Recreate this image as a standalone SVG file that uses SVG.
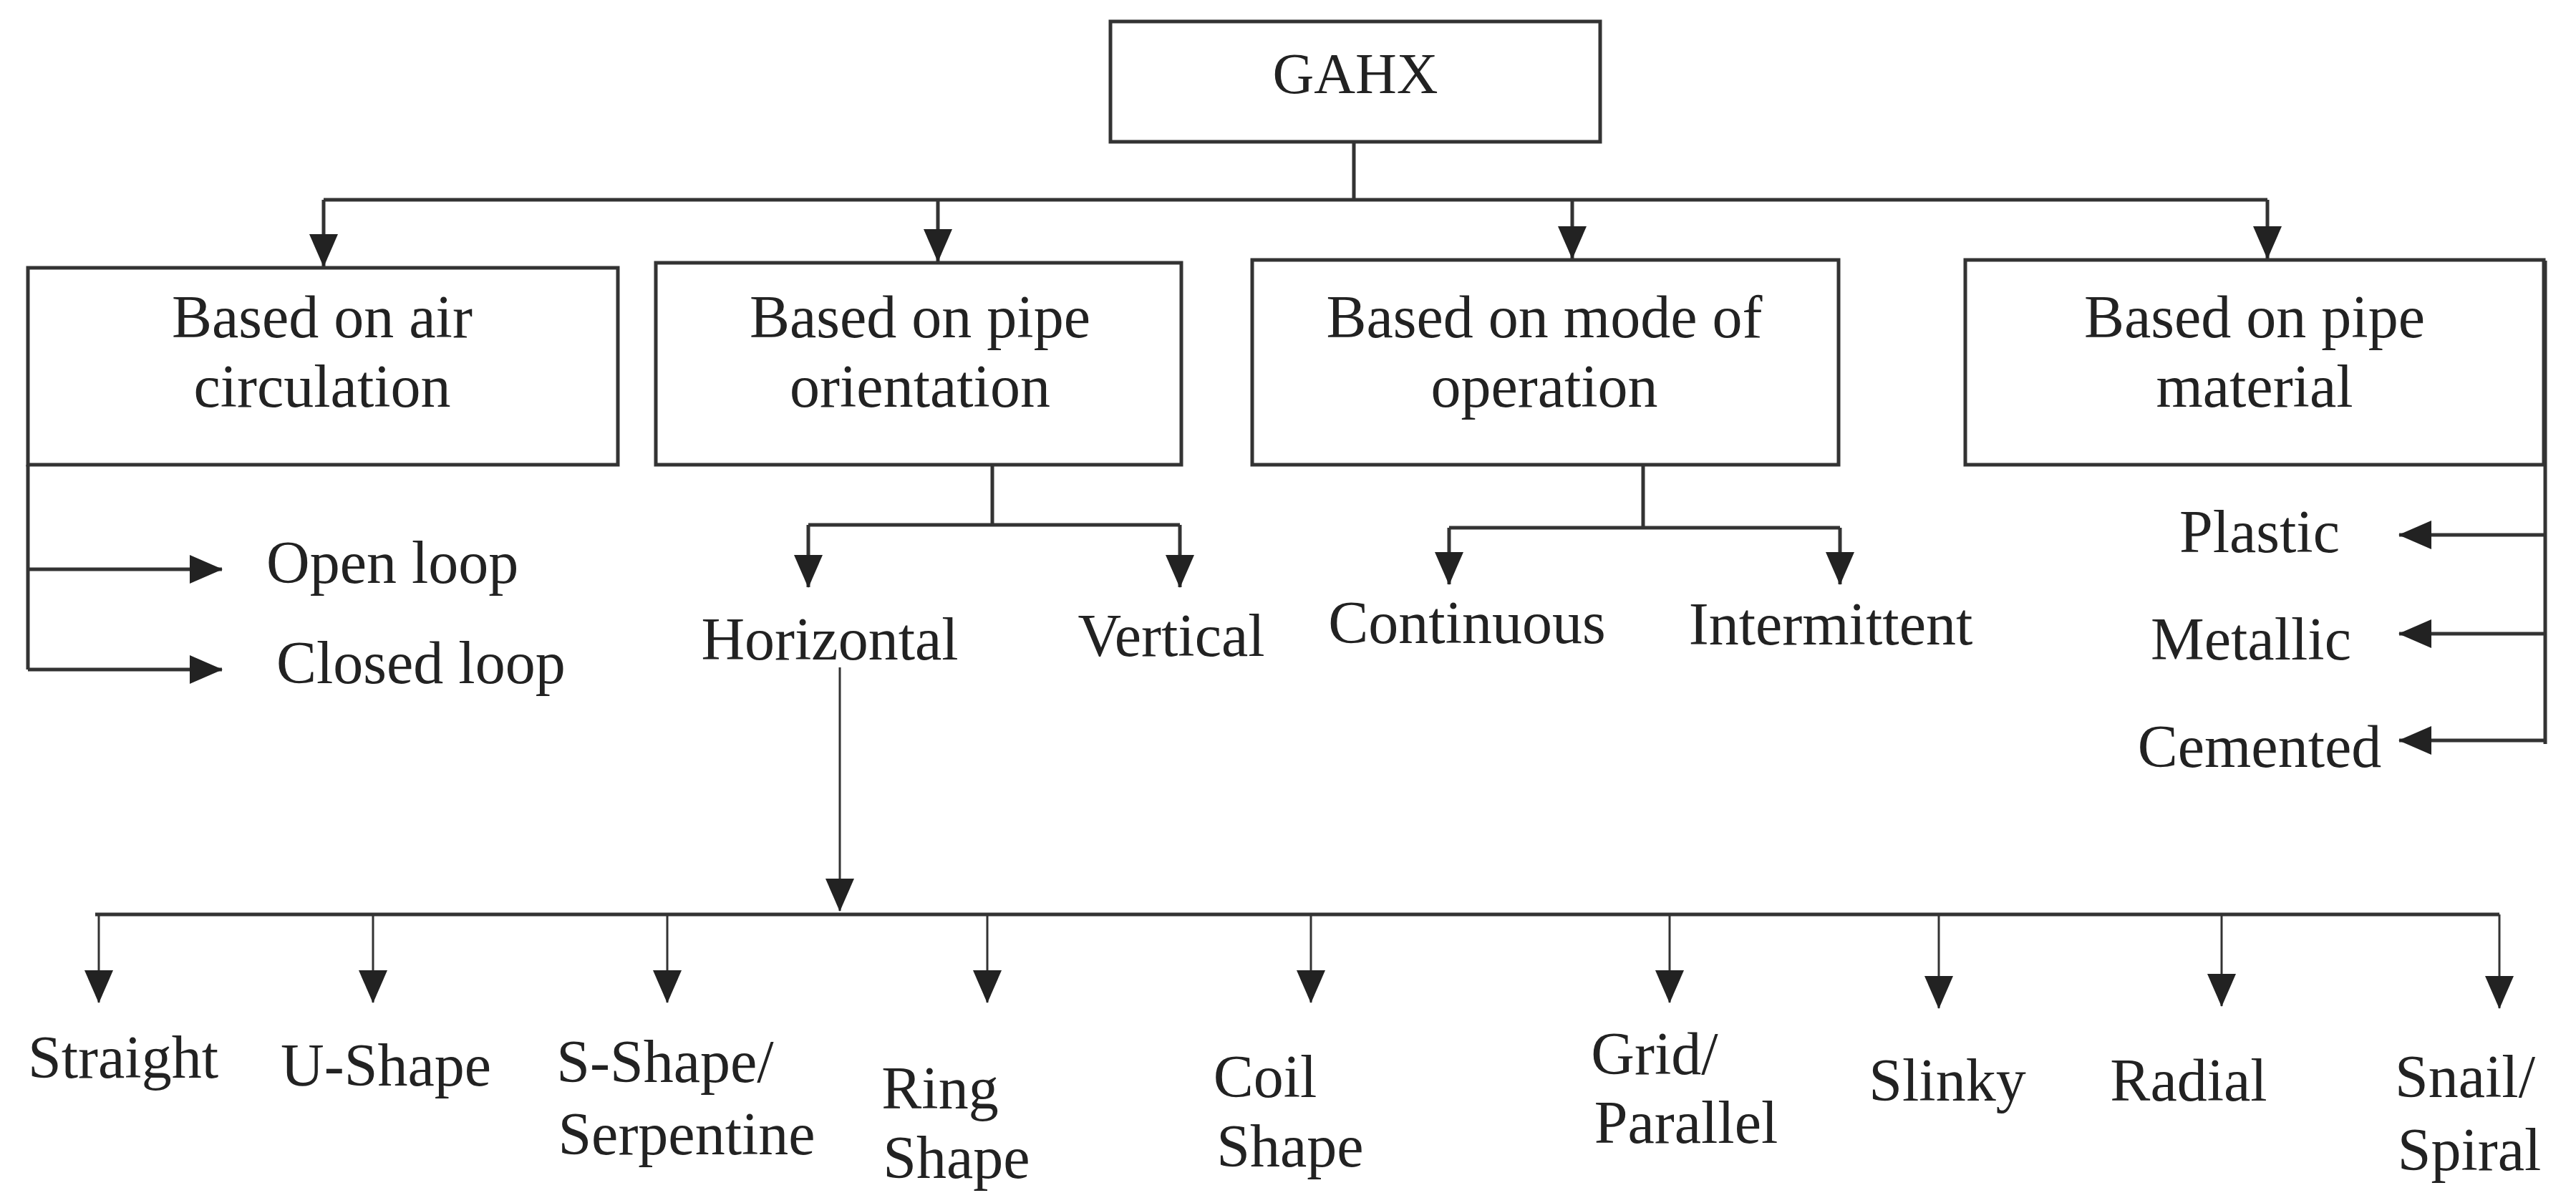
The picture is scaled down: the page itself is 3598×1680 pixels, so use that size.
<svg xmlns="http://www.w3.org/2000/svg" width="3598" height="1680" viewBox="0 0 3598 1680">
<style>
.box{fill:#fff;stroke:#333;stroke-width:5}
.ln{fill:none;stroke:#333;stroke-width:5}
.t{font-family:"Liberation Serif",serif;font-size:84px;fill:#222;text-anchor:middle}
</style>
<defs>
<marker id="ah" markerUnits="userSpaceOnUse" markerWidth="46" markerHeight="40" refX="45" refY="20" orient="auto">
<path d="M0,0 L46,20 L0,40 z" fill="#222"/>
</marker>
</defs>
<rect width="3598" height="1680" fill="#fff"/>
<g id="connectors">
<path class="ln" d="M1891,198 V279 M452,279 H3167"/>
<path class="ln" marker-end="url(#ah)" d="M452,279 V372"/>
<path class="ln" marker-end="url(#ah)" d="M1310,279 V365"/>
<path class="ln" marker-end="url(#ah)" d="M2196,279 V361"/>
<path class="ln" marker-end="url(#ah)" d="M3167,279 V361"/>
<path class="ln" d="M39,649 V935"/>
<path class="ln" marker-end="url(#ah)" d="M39,795 H310"/>
<path class="ln" marker-end="url(#ah)" d="M39,935 H310"/>
<path class="ln" d="M1386,649 V733 M1129,733 H1648"/>
<path class="ln" marker-end="url(#ah)" d="M1129,733 V820"/>
<path class="ln" marker-end="url(#ah)" d="M1648,733 V820"/>
<path class="ln" d="M2295,649 V737 M2024,737 H2570"/>
<path class="ln" marker-end="url(#ah)" d="M2024,737 V816"/>
<path class="ln" marker-end="url(#ah)" d="M2570,737 V816"/>
<path class="ln" d="M3555,364 V1039"/>
<path class="ln" marker-end="url(#ah)" d="M3555,747 H3351"/>
<path class="ln" marker-end="url(#ah)" d="M3555,885 H3351"/>
<path class="ln" marker-end="url(#ah)" d="M3555,1034 H3351"/>
<path class="ln" marker-end="url(#ah)" d="M1173,932 V1272" style="stroke-width:3"/>
<path class="ln" d="M133,1277 H3491"/>
<g style="stroke-width:3">
<path class="ln" marker-end="url(#ah)" d="M138,1277 V1400" style="stroke-width:3"/>
<path class="ln" marker-end="url(#ah)" d="M521,1277 V1400" style="stroke-width:3"/>
<path class="ln" marker-end="url(#ah)" d="M932,1277 V1400" style="stroke-width:3"/>
<path class="ln" marker-end="url(#ah)" d="M1379,1277 V1400" style="stroke-width:3"/>
<path class="ln" marker-end="url(#ah)" d="M1831,1277 V1400" style="stroke-width:3"/>
<path class="ln" marker-end="url(#ah)" d="M2332,1277 V1400" style="stroke-width:3"/>
<path class="ln" marker-end="url(#ah)" d="M2708,1277 V1408" style="stroke-width:3"/>
<path class="ln" marker-end="url(#ah)" d="M3103,1277 V1405" style="stroke-width:3"/>
<path class="ln" marker-end="url(#ah)" d="M3491,1277 V1408" style="stroke-width:3"/>
</g>
</g>
<g id="gahx"><rect class="box" x="1551" y="30" width="684" height="168"/><text class="t" x="1893" y="130" style="font-size:80px">GAHX</text></g>
<g id="air"><rect class="box" x="39" y="374" width="824" height="275"/><text class="t" x="450" y="471">Based on air</text><text class="t" x="450" y="568">circulation</text></g>
<g id="orient"><rect class="box" x="916" y="367" width="734" height="282"/><text class="t" x="1285" y="471">Based on pipe</text><text class="t" x="1285" y="568">orientation</text></g>
<g id="mode"><rect class="box" x="1749" y="363" width="819" height="286"/><text class="t" x="2157" y="471">Based on mode of</text><text class="t" x="2157" y="568">operation</text></g>
<g id="material"><rect class="box" x="2745" y="363" width="808" height="286"/><text class="t" x="3149" y="471">Based on pipe</text><text class="t" x="3149" y="568">material</text></g>
<g id="open"><text class="t" x="372" y="814" style="text-anchor:start">Open loop</text></g>
<g id="closed"><text class="t" x="386" y="954" style="text-anchor:start">Closed loop</text></g>
<g id="horizontal"><text class="t" x="1159" y="921">Horizontal</text></g>
<g id="vertical"><text class="t" x="1636" y="916">Vertical</text></g>
<g id="continuous"><text class="t" x="2049" y="898">Continuous</text></g>
<g id="intermittent"><text class="t" x="2557" y="900">Intermittent</text></g>
<g id="plastic"><text class="t" x="3156" y="771">Plastic</text></g>
<g id="metallic"><text class="t" x="3144" y="921">Metallic</text></g>
<g id="cemented"><text class="t" x="3156" y="1071">Cemented</text></g>
<g id="straight"><text class="t" x="172" y="1505">Straight</text></g>
<g id="ushape"><text class="t" x="539" y="1516">U-Shape</text></g>
<g id="sshape"><text class="t" x="929" y="1511">S-Shape/</text><text class="t" x="959" y="1612">Serpentine</text></g>
<g id="ring"><text class="t" x="1313" y="1548">Ring</text><text class="t" x="1336" y="1645">Shape</text></g>
<g id="coil"><text class="t" x="1767" y="1532">Coil</text><text class="t" x="1802" y="1629">Shape</text></g>
<g id="grid"><text class="t" x="2311" y="1500">Grid/</text><text class="t" x="2355" y="1596">Parallel</text></g>
<g id="slinky"><text class="t" x="2720" y="1537">Slinky</text></g>
<g id="radial"><text class="t" x="3057" y="1537">Radial</text></g>
<g id="snail"><text class="t" x="3443" y="1532">Snail/</text><text class="t" x="3449" y="1634">Spiral</text></g>
</svg>
